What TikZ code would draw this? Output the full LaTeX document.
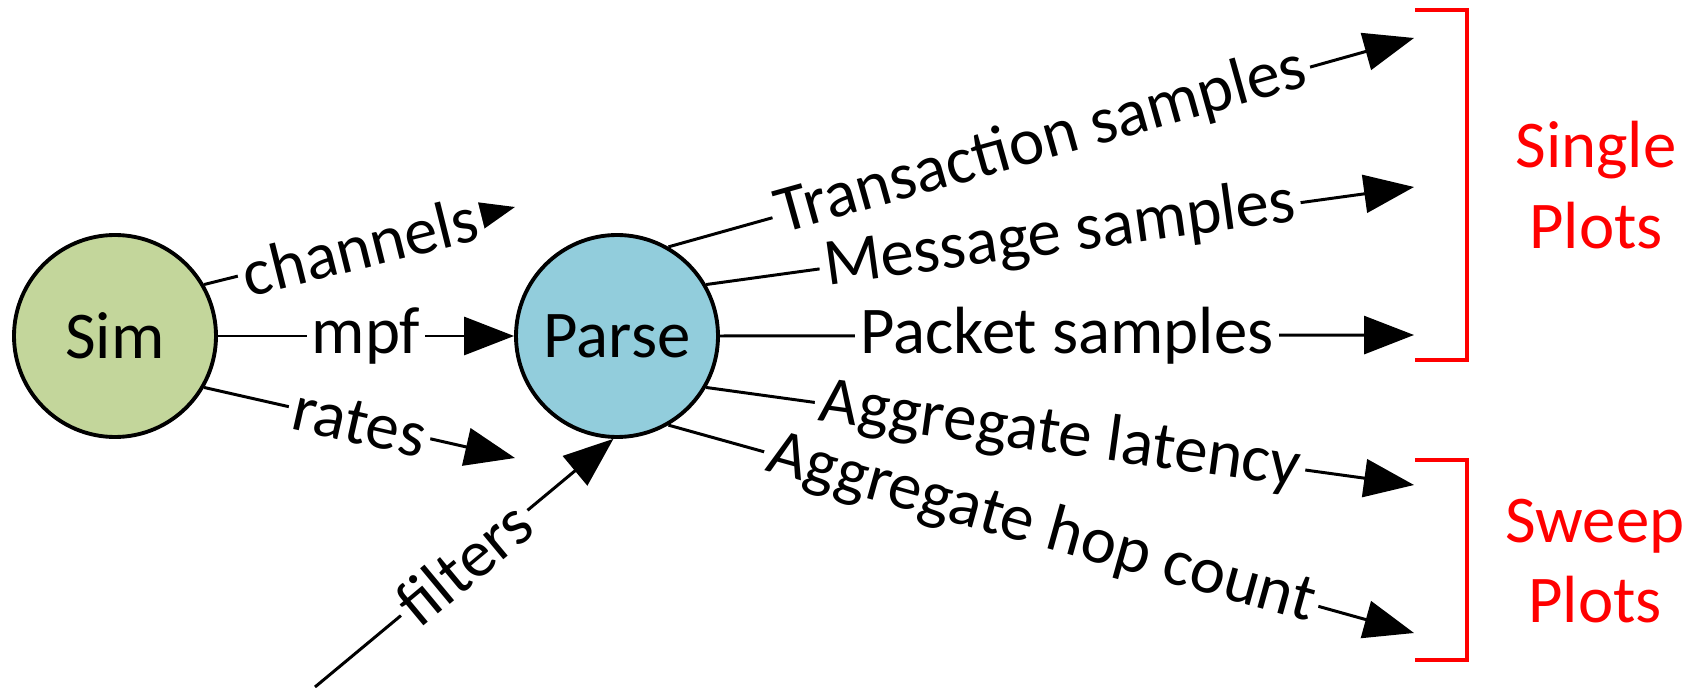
\documentclass[tikz,border=0pt]{standalone}
\usepackage{fontspec}
\setmainfont{Carlito}
\usetikzlibrary{arrows.meta}
\definecolor{simgreen}{HTML}{C3D69B}
\definecolor{parseblue}{HTML}{92CDDC}

\begin{document}
\begin{tikzpicture}[
    font=\fontsize{19}{23}\selectfont,
    block/.style={circle, draw, line width=1.1pt, minimum size=2.02cm, inner sep=0pt},
    flow/.style={-{Triangle[length=5mm,width=3.8mm]}, line width=0.85pt},
    lbl/.style={fill=white, inner sep=1.5pt, sloped},
    bracket/.style={red, line width=0.9pt}
  ]
  \useasboundingbox (0,0) rectangle (16.9,6.87);
  % Circles
  \node[block, fill=simgreen] (sim) at (1.15,3.51) {Sim};
  \node[block, fill=parseblue] (parse) at (6.17,3.51) {Parse};
  % Loose ends
  \coordinate (chan) at (5.15,4.80);
  \coordinate (rate) at (5.15,2.29);
  \coordinate (filt) at (3.15,0);
  \coordinate (trans) at (14.14,6.49);
  \coordinate (msg) at (14.14,5.00);
  \coordinate (pkt) at (14.14,3.52);
  \coordinate (lat) at (14.14,2.02);
  \coordinate (hop) at (14.14,0.54);
  % Sim outputs
  \draw[flow] (sim.30) -- node[lbl]{channels} (chan);
  \draw[flow] (sim.east) -- node[lbl]{mpf} (parse.west);
  \draw[flow] (sim.-30) -- node[lbl]{rates} (rate);
  \draw[flow] (filt) -- node[lbl]{filters} (parse.268);
  % Parse outputs
  \draw[flow] (parse.60) -- node[lbl]{Transaction samples} (trans);
  \draw[flow] (parse.30) -- node[lbl]{Message samples} (msg);
  \draw[flow] (parse.east) -- node[lbl]{Packet samples} (pkt);
  \draw[flow] (parse.-30) -- node[lbl]{Aggregate latency} (lat);
  \draw[flow] (parse.-60) -- node[lbl]{Aggregate hop count} (hop);
  % Brackets
  \draw[bracket] (14.15,6.77) -- (14.67,6.77) -- (14.67,3.27) -- (14.15,3.27);
  \draw[bracket] (14.15,2.27) -- (14.67,2.27) -- (14.67,0.27) -- (14.15,0.27);
  \node[red, align=center] (single) at (15.96,5.02) {Single\\Plots};
  \node[red, align=center] (sweep) at (15.95,1.26) {Sweep\\Plots};
\end{tikzpicture}
\end{document}
